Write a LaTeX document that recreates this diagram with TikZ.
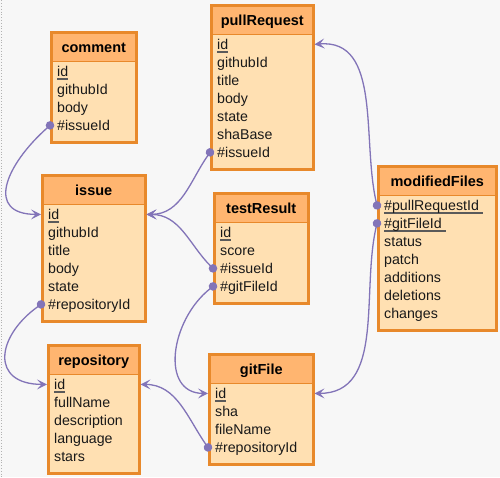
\documentclass[tikz,border=0pt]{standalone}
\usepackage{fontspec}
\setmainfont{Liberation Sans}
\usetikzlibrary{arrows.meta}
\definecolor{hdrfill}{HTML}{FFB570}
\definecolor{tblfill}{HTML}{FFE0B2}
\definecolor{tblline}{HTML}{E8892B}
\definecolor{relline}{HTML}{8274B8}
\definecolor{keyline}{HTML}{5A5A5A}
\definecolor{bgfill}{HTML}{F7F7F7}
\newsavebox{\pkbox}
\newcommand{\pk}[1]{\sbox{\pkbox}{#1}\rlap{\textcolor{keyline}{\rule[-3.5pt]{\wd\pkbox}{1.6pt}}}\usebox{\pkbox}}

\begin{document}
\begin{tikzpicture}[x=1pt, y=-1pt]
        \tikzstyle{tbl} = [draw=tblline, line width=2.5pt, fill=tblfill, anchor=north west, inner sep=0pt]
        \tikzstyle{title} = [draw=tblline, line width=.8pt, fill=hdrfill, anchor=north, yshift=-1.25pt, minimum height=28pt, inner sep=0pt, text height=12pt, text depth=2pt, font=\fontsize{14.5}{16}\selectfont\bfseries]
        \tikzstyle{field} = [anchor=west, inner xsep=7pt, inner ysep=0pt, text height=12pt, text depth=2pt, font=\fontsize{14.2}{16}\selectfont, text=black!90]
        \tikzstyle{rel} = [draw=relline, line width=1.3pt, {Circle[length=8.5pt]}-{Stealth[length=10pt, width=10pt, inset=4.5pt]}, shorten <=-4.25pt]

        % background
        \fill[bgfill] (0,0) rectangle (500,477);
        \draw[gray!60, dotted, line width=.8pt] (1,0) -- (1,477);
        \useasboundingbox (0,0) rectangle (500,477);

        % comment
        \node[tbl, minimum width=85pt, minimum height=110pt] (commentBox) at (50,31) {};
        \node[title, minimum width=82.5pt] (comment) at (commentBox.north) {comment};
        \node[field] (comment-id) at (50,71) {\pk{id}};
        \node[field] (comment-githubId) at (50,89) {githubId};
        \node[field] (comment-body) at (50,107) {body};
        \node[field] (comment-issueId) at (50,125) {\#issueId};

        % pullRequest
        \node[tbl, minimum width=102pt, minimum height=164pt] (pullRequestBox) at (210,4) {};
        \node[title, minimum width=99.5pt] (pullRequest) at (pullRequestBox.north) {pullRequest};
        \node[field] (pullRequest-id) at (210,44) {\pk{id}};
        \node[field] (pullRequest-githubId) at (210,62) {githubId};
        \node[field] (pullRequest-title) at (210,80) {title};
        \node[field] (pullRequest-body) at (210,98) {body};
        \node[field] (pullRequest-state) at (210,116) {state};
        \node[field] (pullRequest-shaBase) at (210,134) {shaBase};
        \node[field] (pullRequest-issueId) at (210,152) {\#issueId};

        % issue
        \node[tbl, minimum width=103pt, minimum height=146pt] (issueBox) at (41,174) {};
        \node[title, minimum width=100.5pt] (issue) at (issueBox.north) {issue};
        \node[field] (issue-id) at (41,214) {\pk{id}};
        \node[field] (issue-githubId) at (41,232) {githubId};
        \node[field] (issue-title) at (41,250) {title};
        \node[field] (issue-body) at (41,268) {body};
        \node[field] (issue-state) at (41,286) {state};
        \node[field] (issue-repositoryId) at (41,304) {\#repositoryId};

        % testResult
        \node[tbl, minimum width=94pt, minimum height=110pt] (testResultBox) at (213,192) {};
        \node[title, minimum width=91.5pt] (testResult) at (testResultBox.north) {testResult};
        \node[field] (testResult-id) at (213,232) {\pk{id}};
        \node[field] (testResult-score) at (213,250) {score};
        \node[field] (testResult-issueId) at (213,268) {\#issueId};
        \node[field] (testResult-gitFileId) at (213,286) {\#gitFileId};

        % repository
        \node[tbl, minimum width=91pt, minimum height=128pt] (repositoryBox) at (47,344) {};
        \node[title, minimum width=88.5pt] (repository) at (repositoryBox.north) {repository};
        \node[field] (repository-id) at (47,384) {\pk{id}};
        \node[field] (repository-fullName) at (47,402) {fullName};
        \node[field] (repository-description) at (47,420) {description};
        \node[field] (repository-language) at (47,438) {language};
        \node[field] (repository-stars) at (47,456) {stars};

        % gitFile
        \node[tbl, minimum width=104pt, minimum height=110pt] (gitFileBox) at (208,353) {};
        \node[title, minimum width=101.5pt] (gitFile) at (gitFileBox.north) {gitFile};
        \node[field] (gitFile-id) at (208,393) {\pk{id}};
        \node[field] (gitFile-sha) at (208,411) {sha};
        \node[field] (gitFile-fileName) at (208,429) {fileName};
        \node[field] (gitFile-repositoryId) at (208,447) {\#repositoryId};

        % modifiedFiles
        \node[tbl, minimum width=118pt, minimum height=164pt] (modifiedFilesBox) at (377,165) {};
        \node[title, minimum width=115.5pt] (modifiedFiles) at (modifiedFilesBox.north) {modifiedFiles};
        \node[field] (modifiedFiles-pullRequestId) at (377,205) {\pk{\#pullRequestId\ }};
        \node[field] (modifiedFiles-gitFileId) at (377,223) {\pk{\#gitFileId\ }};
        \node[field] (modifiedFiles-status) at (377,241) {status};
        \node[field] (modifiedFiles-patch) at (377,259) {patch};
        \node[field] (modifiedFiles-additions) at (377,277) {additions};
        \node[field] (modifiedFiles-deletions) at (377,295) {deletions};
        \node[field] (modifiedFiles-changes) at (377,313) {changes};

        % relations
        \draw[rel] (comment-issueId.west) .. controls (5,165) and (-15,214) .. (issue-id.west);
        \draw[rel] (pullRequest-issueId.west) to[out=235, in=0] (issue-id -| issueBox.east);
        \draw[rel] (testResult-issueId.west) to[out=135, in=0] (issue-id -| issueBox.east);
        \draw[rel] (issue-repositoryId.west) .. controls (-4,336) and (-10,384) .. (repository-id.west);
        \draw[rel] (testResult-gitFileId.west) .. controls (170,320) and (160,393) .. (gitFile-id.west);
        \draw[rel] (gitFile-repositoryId.west) to[out=125, in=0] (repository-id -| repositoryBox.east);
        \draw[rel] (modifiedFiles-pullRequestId.west) to[out=103, in=5] (pullRequest-id -| pullRequestBox.east);
        \draw[rel] (modifiedFiles-gitFileId.west) to[out=257, in=0] (gitFile-id -| gitFileBox.east);
\end{tikzpicture}
\end{document}
